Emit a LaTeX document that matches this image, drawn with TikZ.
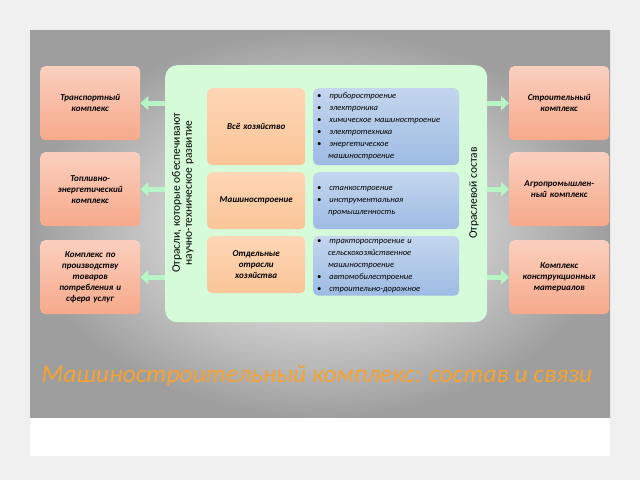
\documentclass[tikz,border=0pt]{standalone}
\usepackage{fontspec}
\setmainfont{Carlito}
\usetikzlibrary{positioning,arrows.meta}
\definecolor{salmon}{HTML}{F7A98A}
\definecolor{peach}{HTML}{FCC597}
\definecolor{sky}{HTML}{9DBBE3}
\definecolor{mint}{HTML}{D6FBD8}
\definecolor{arrowgreen}{HTML}{B8F5C6}
\definecolor{titleorange}{HTML}{F4A233}
\tikzset{
  outerbox/.style={rounded corners=5pt, top color=salmon!55, bottom color=salmon,
    minimum width=100pt, minimum height=74pt, align=center,
    font=\small\bfseries\itshape, text width=90pt},
  sectorbox/.style={rounded corners=5pt, top color=peach!70, bottom color=peach,
    minimum width=98pt, align=center, font=\small\bfseries\itshape, text width=90pt},
  listbox/.style={rounded corners=5pt, top color=sky!60, bottom color=sky,
    minimum width=146pt, align=left, font=\fontsize{8.5}{12}\selectfont\itshape, text width=138pt,
    inner sep=3pt},
  link/.style={draw=arrowgreen, line width=5pt, -{Triangle[length=8pt,width=14pt]}}
}
\newcommand{\itm}{\textbullet\hspace{8pt}}
\begin{document}
\begin{tikzpicture}[x=1pt,y=-1pt]
\useasboundingbox (0,0) rectangle (640,480);
\fill[black!6] (0,0) rectangle (640,480);
\shade[inner color=white, outer color=black!38] (30,30) rectangle (610,418);
\fill[white] (30,418) rectangle (610,456);

% big green panel
\node[draw=none, fill=mint, rounded corners=12pt, minimum width=322pt, minimum height=257pt,
  anchor=north west] (core) at (165,65) {};

% sectors and their lists
\node[sectorbox, minimum height=77pt, anchor=north west] (all) at (207,88) {Всё хозяйство};
\node[sectorbox, minimum height=57pt, anchor=north west] (mach) at (207,172) {Машиностроение};
\node[sectorbox, minimum height=57pt, anchor=north west] (sep) at (207,236) {Отдельные\\отрасли\\хозяйства};
\node[listbox, minimum height=77pt, anchor=north west] (l1) at (313,88)
  {\itm приборостроение\\\itm электроника\\\itm химическое машиностроение\\\itm электротехника\\\itm энергетическое\\\hspace*{11pt}машиностроение};
\node[listbox, minimum height=57pt, anchor=north west] (l2) at (313,172)
  {\itm станкостроение\\\itm инструментальная\\\hspace*{11pt}промышленность};
\node[listbox, minimum height=57pt, anchor=north west] (l3) at (313,236)
  {\itm тракторостроение и\\\hspace*{11pt}сельскохозяйственное\\\hspace*{11pt}машиностроение\\\itm автомобилестроение\\\itm строительно-дорожное};

\node[rotate=90, align=center, font=\fontsize{11.5}{12}\selectfont] (lefttxt) at (183,193)
  {Отрасли, которые обеспечивают\\научно-техническое развитие};
\node[rotate=90, font=\fontsize{11.5}{12}\selectfont] (righttxt) at (474,193) {Отраслевой состав};

% neighbouring complexes
\node[outerbox, anchor=north west] (trans) at (40,66) {Транспортный\\комплекс};
\node[outerbox, anchor=north west] (fuel) at (40,152) {Топливно-\\энергетический\\комплекс};
\node[outerbox, anchor=north west] (cons) at (40,240) {Комплекс по\\производству\\товаров\\потребления и\\сфера услуг};
\node[outerbox, anchor=north west] (build) at (509,66) {Строительный\\комплекс};
\node[outerbox, anchor=north west] (agro) at (509,152) {Агропромышлен-\\ный комплекс};
\node[outerbox, anchor=north west] (mat) at (509,240) {Комплекс\\конструкционных\\материалов};

\foreach \t in {trans,fuel,cons}
  \draw[link] (core.west |- \t.east) -- (\t.east);
\foreach \t in {build,agro,mat}
  \draw[link] (core.east |- \t.west) -- (\t.west);

\node[text=titleorange, font=\fontsize{25.5}{28}\selectfont\itshape, anchor=west] (title) at (38,376)
  {Машиностроительный комплекс: состав и связи};
\end{tikzpicture}
\end{document}
